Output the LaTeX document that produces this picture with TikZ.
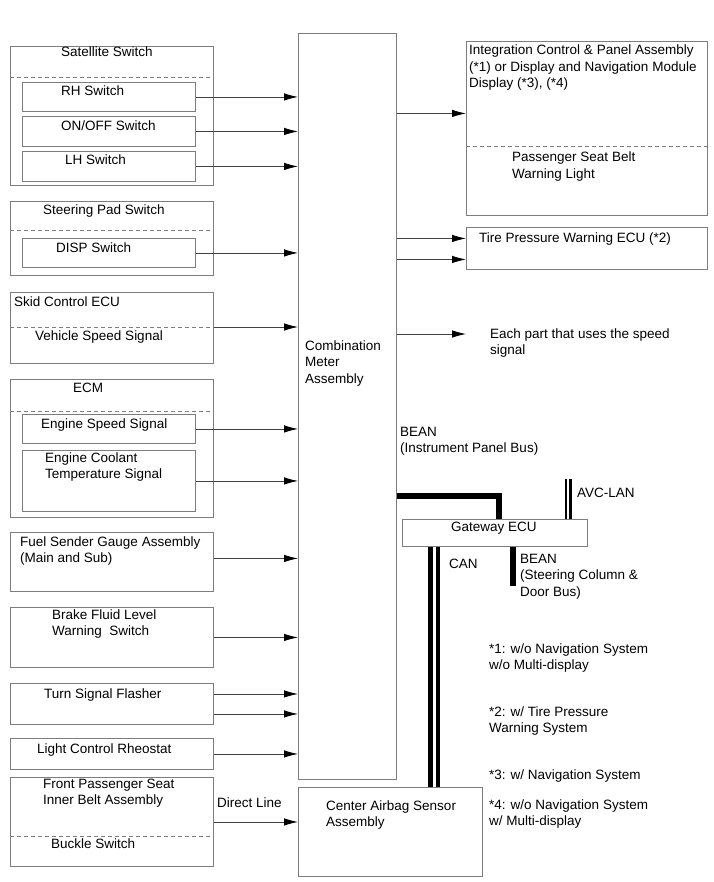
\documentclass[tikz,border=0pt]{standalone}
\usepackage{fontspec}
\setmainfont{Liberation Sans}
\usetikzlibrary{arrows.meta}
\definecolor{boxgray}{RGB}{125,125,125}
\tikzset{
  blk/.style={draw=boxgray, line width=0.9pt, inner sep=0pt, anchor=north west},
  lbl/.style={anchor=base west, inner sep=0pt, align=left,
    font=\fontsize{13.5}{16.5}\selectfont},
  sig/.style={draw=black!75, line width=0.8pt,
    -{Latex[length=14pt,width=7.5pt,color=black]}},
  sep/.style={draw=boxgray, dash pattern=on 4pt off 3pt, line width=0.8pt},
  bus/.style={line width=6pt, line join=miter},
  twobus/.style={line width=2.5pt, double=white, double distance=2pt},
  threebus/.style={line width=4.5pt, double=white, double distance=3pt},
}
\begin{document}
\begin{tikzpicture}[x=1pt,y=-1pt]
  \useasboundingbox (0,0) rectangle (713,882);
  % centre block (multi-line labels sit on their last baseline)
  \node[blk, minimum width=98, minimum height=746] (cmb) at (298,33) {};
  \node[lbl] (cmbT) at (305,383) {Combination\\Meter\\Assembly};
  % satellite switch
  \node[blk, minimum width=203, minimum height=139] (sat) at (10,46) {};
  \draw[sep] ([yshift=-31pt]sat.north west) -- ([yshift=-31pt]sat.north east);
  \node[lbl] (satT) at (61,57) {Satellite Switch};
  \node[blk, minimum width=173, minimum height=29] (rh) at (22,82) {};
  \node[lbl] (rhT) at (61,96) {RH Switch};
  \node[blk, minimum width=173, minimum height=30] (onoff) at (22,116) {};
  \node[lbl] (onoffT) at (61,131) {ON/OFF Switch};
  \node[blk, minimum width=173, minimum height=30] (lh) at (22,151) {};
  \node[lbl] (lhT) at (65,165) {LH Switch};
  % steering pad
  \node[blk, minimum width=203, minimum height=74] (pad) at (10,201) {};
  \draw[sep] ([yshift=-29pt]pad.north west) -- ([yshift=-29pt]pad.north east);
  \node[lbl] (padT) at (43,215) {Steering Pad Switch};
  \node[blk, minimum width=173, minimum height=29] (disp) at (22,238) {};
  \node[lbl] (dispT) at (56,253) {DISP Switch};
  % skid control
  \node[blk, minimum width=203, minimum height=71] (skid) at (10,292) {};
  \draw[sep] ([yshift=-35pt]skid.north west) -- ([yshift=-35pt]skid.north east);
  \node[lbl] (skidT) at (14,306) {Skid Control ECU};
  \node[lbl] (vssT) at (35,340) {Vehicle Speed Signal};
  \coordinate (skidout) at ([yshift=-35pt]skid.north east);
  % ecm
  \node[blk, minimum width=203, minimum height=138] (ecm) at (10,379) {};
  \draw[sep] ([yshift=-32pt]ecm.north west) -- ([yshift=-32pt]ecm.north east);
  \node[lbl] (ecmT) at (73,392) {ECM};
  \node[blk, minimum width=173, minimum height=29] (nes) at (22,414) {};
  \node[lbl] (nesT) at (41,428) {Engine Speed Signal};
  \node[blk, minimum width=173, minimum height=61] (thw) at (22,450) {};
  \node[lbl] (thwT) at (45,478.5) {Engine Coolant\\Temperature Signal};
  % other inputs
  \node[blk, minimum width=203, minimum height=59] (fuel) at (10,532) {};
  \node[lbl] (fuelT) at (20,562.5) {Fuel Sender Gauge Assembly\\(Main and Sub)};
  \coordinate (fuelout) at ([yshift=3.5pt]fuel.east);
  \node[blk, minimum width=203, minimum height=60] (brk) at (10,607) {};
  \node[lbl] (brkT) at (52,635.5) {Brake Fluid Level\\Warning~ Switch};
  \node[blk, minimum width=203, minimum height=41] (turn) at (10,683) {};
  \node[lbl] (turnT) at (44,698) {Turn Signal Flasher};
  \node[blk, minimum width=203, minimum height=31] (rheo) at (10,738) {};
  \node[lbl] (rheoT) at (37,753) {Light Control Rheostat};
  \node[blk, minimum width=203, minimum height=89] (belt) at (10,777) {};
  \draw[sep] ([yshift=-59pt]belt.north west) -- ([yshift=-59pt]belt.north east);
  \node[lbl] (beltT) at (43,804.5) {Front Passenger Seat\\Inner Belt Assembly};
  \node[lbl] (bklT) at (51,848) {Buckle Switch};
  % airbag sensor
  \node[blk, minimum width=184, minimum height=89] (sab) at (298,787) {};
  \node[lbl] (sabT) at (326,826.5) {Center Airbag Sensor\\Assembly};
  \node[lbl] (dlT) at (217,807) {Direct Line};
  % outputs
  \node[blk, minimum width=241, minimum height=174] (intg) at (466,41) {};
  \draw[sep] ([yshift=-105pt]intg.north west) -- ([yshift=-105pt]intg.north east);
  \node[lbl] (intgT) at (469,88) {Integration Control \& Panel Assembly\\(*1) or Display and Navigation Module\\Display (*3), (*4)};
  \node[lbl] (pswT) at (512,178.5) {Passenger Seat Belt\\Warning Light};
  \coordinate (intgin) at ([yshift=15pt]intg.west);
  \node[blk, minimum width=241, minimum height=42] (tpw) at (466,227) {};
  \node[lbl] (tpwT) at (479,243) {Tire Pressure Warning ECU (*2)};
  \coordinate (spdend) at (466,334);
  \node[lbl] (spdT) at (490,354.5) {Each part that uses the speed\\signal};
  % gateway and buses
  \node[blk, minimum width=185, minimum height=27] (gw) at (402,519) {};
  \node[lbl] (gwT) at (451,531) {Gateway ECU};
  \coordinate (beanknee) at (498.5,496);
  \coordinate (avcx) at (568,479);
  \coordinate (canx) at (434,0);
  \coordinate (scbx) at (512.5,586);
  \node[lbl] (ipbT) at (400,452.5) {BEAN\\(Instrument Panel Bus)};
  \node[lbl] (avcT) at (577,497) {AVC-LAN};
  \node[lbl] (canT) at (449,568) {CAN};
  \node[lbl] (scbT) at (520,596) {BEAN\\(Steering Column \&\\Door Bus)};
  % notes
  \node[lbl] (n1) at (489,669.5) {*1: w/o Navigation System\\w/o Multi-display};
  \node[lbl] (n2) at (489,732.5) {*2: w/ Tire Pressure\\Warning System};
  \node[lbl] (n3) at (489,779) {*3: w/ Navigation System};
  \node[lbl] (n4) at (489,825.5) {*4: w/o Navigation System\\w/ Multi-display};

  % signal lines into the meter
  \foreach \src in {rh,onoff,lh,disp,nes,thw,brk,rheo}
    \draw[sig] (\src.east) -- (\src.east -| cmb.west);
  \draw[sig] (skidout) -- (skidout -| cmb.west);
  \draw[sig] (fuelout) -- (fuelout -| cmb.west);
  \draw[sig] ([yshift=10pt]turn.east) -- ([yshift=10pt]turn.east -| cmb.west);
  \draw[sig] ([yshift=-10pt]turn.east) -- ([yshift=-10pt]turn.east -| cmb.west);
  \draw[sig] (belt.east) -- (belt.east -| sab.west);
  % signal lines out of the meter
  \draw[sig] (intgin -| cmb.east) -- (intgin);
  \draw[sig] ([yshift=10pt]tpw.west -| cmb.east) -- ([yshift=10pt]tpw.west);
  \draw[sig] ([yshift=-11pt]tpw.west -| cmb.east) -- ([yshift=-11pt]tpw.west);
  \draw[sig] (spdend -| cmb.east) -- (spdend);
  % buses
  \draw[bus] (beanknee -| cmb.east) -- (beanknee) -- (beanknee |- gw.north);
  \draw[twobus] (avcx) -- (avcx |- gw.north);
  \draw[threebus] (gw.south -| canx) -- (sab.north -| canx);
  \draw[bus] (scbx |- gw.south) -- (scbx);
\end{tikzpicture}
\end{document}
